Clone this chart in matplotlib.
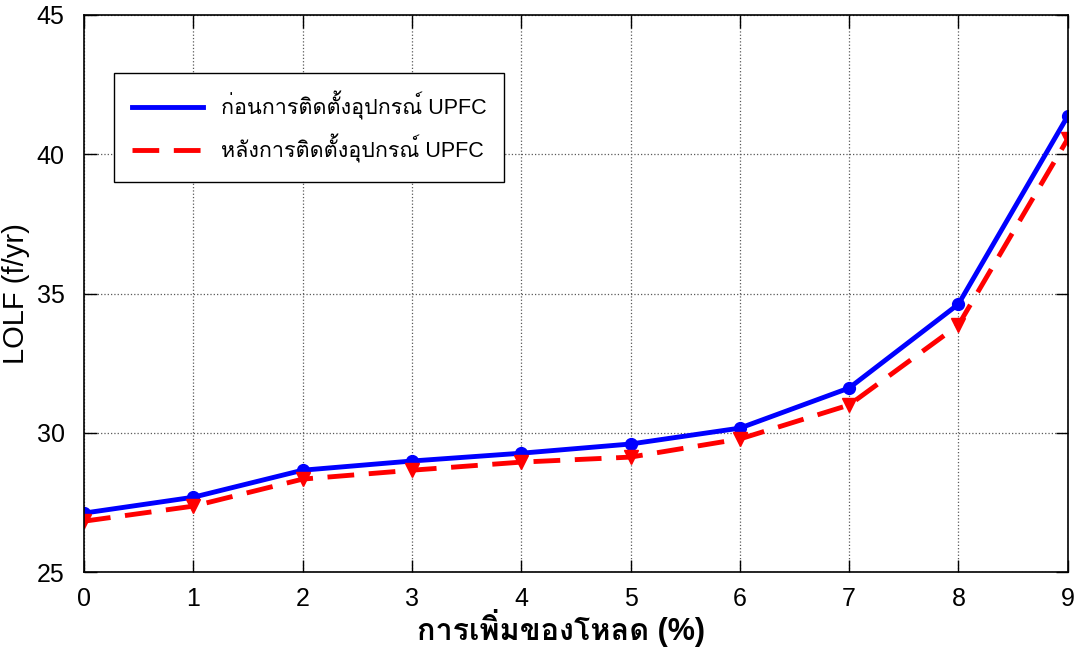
import matplotlib
matplotlib.use("Agg")
import matplotlib.pyplot as plt
from matplotlib import font_manager
from matplotlib.ft2font import FT2Font
from matplotlib.lines import Line2D

# load increase (%) and LOLF values
load_pct = [0, 1, 2, 3, 4, 5, 6, 7, 8, 9]
lolf_before = [27.12, 27.69, 28.66, 28.99, 29.27, 29.60, 30.17, 31.61, 34.62, 41.37]
lolf_after = [26.83, 27.37, 28.34, 28.66, 28.95, 29.13, 29.78, 31.00, 33.87, 40.55]

label_before = "ก่อนการติดตั้งอุปกรณ์ UPFC"
label_after = "หลังการติดตั้งอุปกรณ์ UPFC"
xlabel = "การเพิ่มของโหลด (%)"
ylabel = "LOLF (f/yr)"


def find_thai_font():
    # look for any installed font that has Thai glyphs
    names = []
    for f in font_manager.fontManager.ttflist:
        try:
            cmap = FT2Font(f.fname).get_charmap()
        except Exception:
            continue
        if 0x0E01 in cmap and 0x0E48 in cmap:
            names.append(f.name)
    pref = [n for n in names if "Thai" in n or "Sarabun" in n or "Loma" in n]
    if pref:
        return pref[0]
    return names[0] if names else None


thai = find_thai_font()
fams = ["Liberation Sans"] + ([thai] if thai else []) + ["DejaVu Sans"]
plt.rcParams["font.family"] = fams

fig = plt.figure(figsize=(10.84, 6.48), dpi=100)
ax = fig.add_axes([0.0775, 0.117, 0.9075, 0.86])

ax.plot(load_pct, lolf_before, color="#0000ff", lw=3.5, marker="o", ms=8.5)
ax.plot(load_pct, lolf_after, color="#ff0000", lw=3.5, marker="v", ms=10,
        dashes=(5.5, 3))

ax.set_xlim(0, 9)
ax.set_ylim(25, 45)
ax.set_xticks(load_pct)
ax.set_yticks([25, 30, 35, 40, 45])
ax.grid(True, linestyle=":", color="0.35", lw=0.9)
ax.tick_params(direction="in", length=9, width=1, top=True, right=True,
               labelsize=18)
ax.tick_params(axis="x", pad=11)
ax.tick_params(axis="y", pad=14)
for s in ax.spines.values():
    s.set_linewidth(1.2)

ax.set_xlabel(xlabel, fontsize=22, fontweight="bold")
ax.xaxis.set_label_coords(0.485, -0.122, transform=ax.transAxes)
ax.xaxis.label.set_va("baseline")
ax.set_ylabel(ylabel, fontsize=21)
ax.yaxis.set_label_coords(-0.055, 0.5)

# legend shows plain lines only
handles = [Line2D([], [], color="#0000ff", lw=3.5),
           Line2D([], [], color="#ff0000", lw=3.5, dashes=(5.5, 3))]
leg = ax.legend(handles, [label_before, label_after], loc="upper left",
                bbox_to_anchor=(0.0305, 0.896), borderaxespad=0, fontsize=15.5,
                fancybox=False, edgecolor="black", framealpha=1,
                handlelength=3.3, handletextpad=0.8, borderpad=0.85,
                labelspacing=0.65)
leg.get_frame().set_linewidth(1.0)

fig.savefig("out.png", dpi=100)
